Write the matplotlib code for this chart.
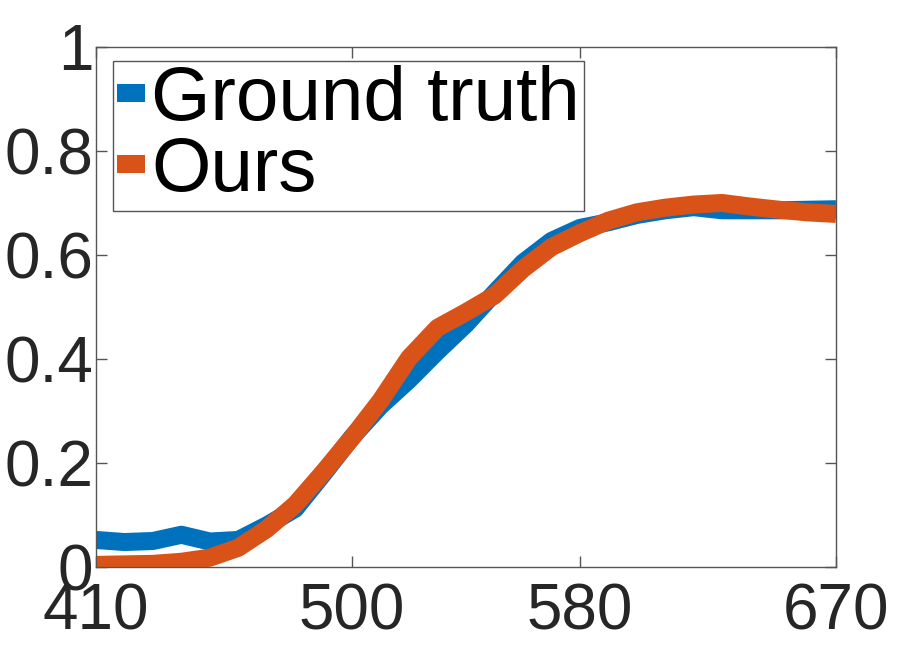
import matplotlib
matplotlib.use("Agg")
import matplotlib.pyplot as plt

wavelength = [410, 420, 430, 440, 450, 460, 470, 480, 490, 500, 510, 520, 530, 540,
              550, 560, 570, 580, 590, 600, 610, 620, 630, 640, 650, 660, 670]
ground_truth = [0.052, 0.048, 0.050, 0.062, 0.049, 0.052, 0.080, 0.112, 0.180, 0.250,
                0.310, 0.360, 0.415, 0.467, 0.527, 0.585, 0.627, 0.652, 0.663, 0.677,
                0.686, 0.692, 0.686, 0.686, 0.686, 0.687, 0.688]
ours = [0.004, 0.005, 0.006, 0.010, 0.018, 0.037, 0.073, 0.120, 0.183, 0.249,
        0.320, 0.402, 0.460, 0.490, 0.522, 0.573, 0.615, 0.642, 0.666, 0.682,
        0.691, 0.697, 0.700, 0.693, 0.687, 0.682, 0.679]
series_labels = ["Ground truth", "Ours"]
xticks = [410, 500, 580, 670]
yticks = [0, 0.2, 0.4, 0.6, 0.8, 1]
ytick_labels = ["0", "0.2", "0.4", "0.6", "0.8", "1"]

plt.rcParams['font.family'] = ['Liberation Sans', 'DejaVu Sans']

fig = plt.figure(figsize=(9, 6.47), dpi=100)
ax = fig.add_axes([96/900, 1-567/647, 740/900, 520/647])

lw = 13
ax.plot(wavelength, ground_truth, color='#0072BD', lw=lw, solid_capstyle='butt',
        solid_joinstyle='round', label=series_labels[0])
ax.plot(wavelength, ours, color='#D95319', lw=lw, solid_capstyle='butt',
        solid_joinstyle='round', label=series_labels[1])

ax.set_xlim(410, 670)
ax.set_ylim(0, 1)
ax.set_xticks(xticks)
ax.set_xticklabels([str(t) for t in xticks])
ax.set_yticks(yticks)
ax.set_yticklabels(ytick_labels)

axc = '#262626'
for s in ax.spines.values():
    s.set_color('#555555')
    s.set_linewidth(1)
ax.tick_params(direction='in', length=8, width=1, color='#555555',
               top=True, right=True, labelsize=46, labelcolor=axc)
ax.tick_params(axis='x', pad=11)
ax.tick_params(axis='y', pad=2)

leg = ax.legend(loc='upper left', bbox_to_anchor=(0.023, 0.973), borderaxespad=0,
                fontsize=55, handlelength=0.37, handletextpad=0.08, labelspacing=0.0,
                borderpad=0.05, frameon=True, fancybox=False, framealpha=1)
leg.get_frame().set_edgecolor('#555555')
leg.get_frame().set_linewidth(1)

fig.savefig('out.png', dpi=100)
